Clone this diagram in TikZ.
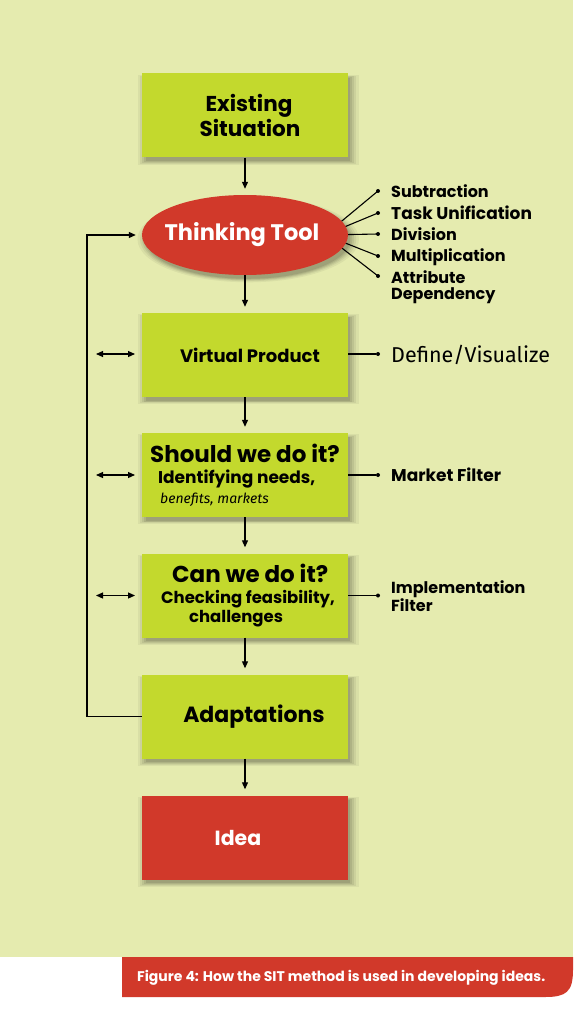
\documentclass[tikz,border=0pt]{standalone}
\usepackage{fontspec}
\setmainfont{Poppins}
\newfontfamily\fira{Fira Sans}
\usetikzlibrary{arrows.meta,shapes.geometric,shadows,calc}
\definecolor{bg}{RGB}{229,235,175}
\definecolor{lime}{RGB}{195,217,45}
\definecolor{redc}{RGB}{209,57,42}
\pgfdeclarelayer{bgl}
\pgfdeclarelayer{spk}
\pgfsetlayers{bgl,spk,main}
\newcommand{\fsz}[1]{\fontsize{#1}{#1}\selectfont}
\begin{document}
\begin{tikzpicture}[x=1pt,y=-1pt,
  shd/.style={
    general shadow={fill=black,opacity=.05,shadow xshift=3pt,shadow yshift=-4pt,shadow scale=1.075},
    general shadow={fill=black,opacity=.06,shadow xshift=3pt,shadow yshift=-4pt,shadow scale=1.05},
    general shadow={fill=black,opacity=.07,shadow xshift=3pt,shadow yshift=-4pt,shadow scale=1.03},
    general shadow={fill=black,opacity=.08,shadow xshift=3pt,shadow yshift=-4pt,shadow scale=1.012},
    general shadow={fill=black,opacity=.09,shadow xshift=3pt,shadow yshift=-4pt,shadow scale=0.995}},
  box/.style={shd,fill=lime,minimum width=206pt,minimum height=84pt,inner sep=0pt,font=\bfseries},
  rbox/.style={shd,fill=redc,minimum width=206pt,minimum height=84pt,inner sep=0pt,font=\bfseries,text=white},
  oval/.style={shd,ellipse,fill=redc,minimum width=206pt,minimum height=80pt,inner xsep=-10pt,inner ysep=0pt,font=\bfseries,text=white},
  conn/.style={line width=1.1pt,black},
  arr/.style={conn,-{Triangle[length=7pt,width=6pt]}},
  darr/.style={conn,{Triangle[length=7pt,width=6pt]}-{Triangle[length=7pt,width=6pt]}},
  dot/.style={circle,fill=black,inner sep=0pt,minimum size=4pt},
  lab/.style={anchor=west,inner sep=0pt,align=left}
]
\useasboundingbox (0,0) rectangle (573,1024);
\begin{pgfonlayer}{bgl}
  \fill[white] (0,0) rectangle (573,1024);
  \fill[bg] (0,0) rectangle (573,957);
\end{pgfonlayer}

% main column
\node[box,align=center,font=\bfseries\fontsize{21.5}{22}\selectfont] (ex) at (245,115.5) {\hspace*{8pt}Existing\\[0pt]\hspace*{10pt}Situation};
\node[oval,font=\bfseries\fontsize{22.5}{23}\selectfont] (tt) at (245,235) {Thinking Tool\hspace*{6pt}};
\node[box,font=\bfseries\fontsize{18}{19}\selectfont] (vp) at (245,355) {\hspace*{10pt}Virtual Product};
\node[box,align=left,font=\bfseries\fontsize{17}{18}\selectfont] (sw) at (245,475) {\fsz{23}Should we do it?\\[3pt]
  \hspace*{8pt}Identifying needs,\\[2pt]
  \hspace*{10pt}{\fira\mdseries\itshape\fontsize{14}{15}\selectfont benefits, markets}\hspace*{6pt}};
\node[box,align=left,font=\bfseries\fontsize{16.5}{17}\selectfont] (cw) at (245,595.5) {\hspace*{17pt}{\fsz{23}Can we do it?}\\[4pt]
  \hspace*{6pt}Checking feasibility,\\[2pt]
  \hspace*{34pt}challenges};
\node[box,font=\bfseries\fontsize{22}{23}\selectfont] (ad) at (245,716.5) {\hspace*{18pt}Adaptations};
\node[rbox,font=\bfseries\fontsize{20.5}{21}\selectfont] (id) at (245,837.5) {Idea\hspace*{14pt}};

% downward arrows
\draw[arr,shorten >=6pt] (ex) -- (tt);
\draw[arr,shorten >=6pt] (tt) -- (vp);
\draw[arr,shorten >=6pt] (vp) -- (sw);
\draw[arr,shorten >=6pt] (sw) -- (cw);
\draw[arr,shorten >=6pt] (cw) -- (ad);
\draw[arr,shorten >=6pt] (ad) -- (id);

% feedback loop
\coordinate (fb) at (87,235);
\draw[arr,shorten >=6pt] (ad.west) -| (fb) -- (tt.west);

% double arrows
\coordinate (a1) at (96,354); \coordinate (b1) at (135,354);
\coordinate (a2) at (96,475);   \coordinate (b2) at (135,475);
\coordinate (a3) at (96,595.5); \coordinate (b3) at (135,595.5);
\draw[darr] (a1) -- (b1);
\draw[darr] (a2) -- (b2);
\draw[darr] (a3) -- (b3);

% thinking tool spokes
\coordinate (hub) at (325,235);
\node[dot] (s1) at (378,191) {};
\node[dot] (s2) at (378,213) {};
\node[dot] (s3) at (378,234) {};
\node[dot] (s4) at (378,256) {};
\node[dot] (s5) at (378,276) {};
\begin{pgfonlayer}{spk}
  \foreach \s in {s1,s2,s3,s4,s5} \draw[conn] (hub) -- (\s.center);
\end{pgfonlayer}
\begin{scope}[every node/.append style={font=\bfseries\fontsize{16}{16.5}\selectfont}]
\node[lab] (l1) at (391,191.5) {Subtraction};
\node[lab,font=\bfseries\fontsize{17}{17}\selectfont] (l2) at (391,213) {Task Unification};
\node[lab] (l3) at (391,234.5) {Division};
\node[lab] (l4) at (391,257) {Multiplication};
\node[lab] (l5) at (391,287) {Attribute\\Dependency};
\end{scope}

% right side filters
\node[dot] (d1) at (378,354) {};
\node[dot] (d2) at (378,475) {};
\node[dot] (d3) at (378,595.5) {};
\draw[conn] (vp.east |- d1) -- (d1);
\draw[conn] (sw.east) -- (d2);
\draw[conn] (cw.east) -- (d3);
\node[lab,font=\fira\fontsize{21.5}{22}\selectfont] (r1) at (391,355) {Define/Visualize};
\node[lab,font=\bfseries\fontsize{17}{17}\selectfont] (r2) at (391,474.5) {Market Filter};
\node[lab,font=\bfseries\fontsize{16}{16.5}\selectfont] (r3) at (391,596) {Implementation\\Filter};

% caption band
\fill[redc] (122,957) -- (573,957) -- (573,970) .. controls (573,992) and (566,997) .. (545,997) -- (122,997) -- cycle;
\node[anchor=west,text=white,font=\bfseries\fontsize{14}{14}\selectfont,inner sep=0pt] (cap) at (137,978) {Figure 4: How the SIT method is used in developing ideas.};
\end{tikzpicture}
\end{document}
